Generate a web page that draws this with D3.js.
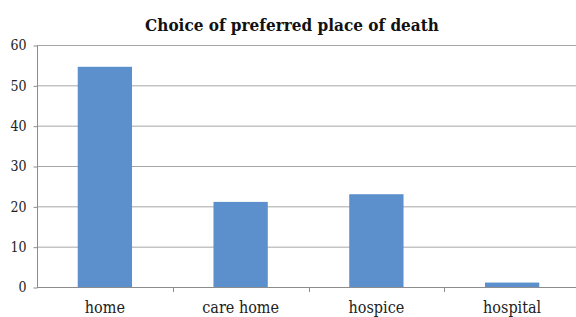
<!DOCTYPE html>
<html><head><meta charset="utf-8">
<script src="https://cdn.jsdelivr.net/npm/d3@7"></script>
<style>body{margin:0;background:#fff}svg{display:block}</style>
</head><body>
<svg id="c" width="576" height="317"></svg>
<script>
const categories = ["home", "care home", "hospice", "hospital"];
const values = [54.6, 21.1, 23.0, 1.1];
const yTicks = [0, 10, 20, 30, 40, 50, 60];
const title = "Choice of preferred place of death";

const svg = d3.select("#c");
const m = {left: 37, right: -4, top: 45, bottom: 30};
const W = 576, H = 317;
const x = d3.scaleBand().domain(categories).range([m.left, W - m.right]).paddingInner(0.6).paddingOuter(0.3);
const y = d3.scaleLinear().domain([0, 60]).range([287, 45]);
const font = "'DejaVu Serif Condensed', 'DejaVu Serif', serif";

// gridlines
svg.append("g").selectAll("line").data(yTicks.filter(d => d > 0)).join("line")
  .attr("x1", m.left).attr("x2", W).attr("y1", d => y(d) + 0.5).attr("y2", d => y(d) + 0.5)
  .attr("stroke", "#a6a6a6").attr("stroke-width", 1);

// bars
svg.append("g").selectAll("rect").data(values).join("rect")
  .attr("x", (d, i) => x(categories[i])).attr("width", x.bandwidth())
  .attr("y", d => y(d)).attr("height", d => y(0) - y(d))
  .attr("fill", "#5b90cc");

// y axis
const ya = svg.append("g").attr("transform", `translate(${m.left + 0.5},0.5)`)
  .call(d3.axisLeft(y).tickValues(yTicks).tickSize(4).tickPadding(7));
ya.selectAll("path,line").attr("stroke", "#8c8c8c");
ya.select("path").attr("d", `M0,${y(60)}V${y(0)}`);
ya.selectAll("text").attr("font-family", font).attr("font-stretch", "condensed").attr("font-size", 14).attr("fill", "#222");

// x axis
const xa = svg.append("g").attr("transform", `translate(0,${y(0) + 0.5})`)
  .call(d3.axisBottom(x).tickSize(0).tickPadding(14));
xa.select("path").attr("d", `M${m.left},0H${W}`).attr("stroke", "#8c8c8c");
xa.selectAll("text").attr("font-family", font).attr("font-stretch", "condensed").attr("font-size", 16).attr("fill", "#222");
// category separator ticks
const step = x.step();
svg.append("g").selectAll("line").data(d3.range(1, categories.length)).join("line")
  .attr("x1", i => Math.round(x(categories[0]) - x.paddingOuter() * step + i * step) + 0.5)
  .attr("x2", i => Math.round(x(categories[0]) - x.paddingOuter() * step + i * step) + 0.5)
  .attr("y1", y(0)).attr("y2", y(0) + 5).attr("stroke", "#8c8c8c");

// title
svg.append("text").attr("x", 292).attr("y", 31).attr("text-anchor", "middle")
  .attr("font-family", font).attr("font-stretch", "condensed").attr("font-weight", "bold").attr("font-size", 17)
  .attr("fill", "#111").text(title);
</script>
</body></html>
